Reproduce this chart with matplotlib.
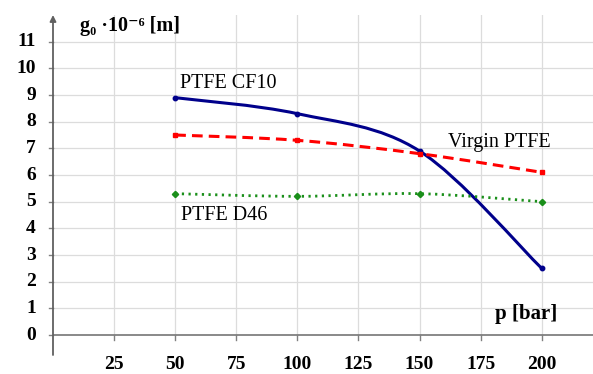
import numpy as np
import matplotlib
matplotlib.use('Agg')
import matplotlib.pyplot as plt
from matplotlib.path import Path
from matplotlib.patches import PathPatch

# data
p_bar = [50, 100, 150, 200]
cf10 = [8.9, 8.3, 6.9, 2.5]
virgin = [7.5, 7.3, 6.8, 6.1]
d46 = [5.3, 5.2, 5.3, 5.0]
xticks = [25, 50, 75, 100, 125, 150, 175, 200]
yticks = list(range(0, 12))

serif = ['Liberation Serif', 'DejaVu Serif']


def smooth_path(x, y):
    # Excel-like smoothed line: cubic bezier through the points
    pts = np.column_stack([x, y]).astype(float)
    ext = np.vstack([pts[0], pts, pts[-1]])
    verts = [pts[0]]
    codes = [Path.MOVETO]
    for i in range(1, len(ext) - 2):
        c1 = ext[i] + (ext[i + 1] - ext[i - 1]) / 6
        c2 = ext[i + 1] - (ext[i + 2] - ext[i]) / 6
        verts += [c1, c2, ext[i + 1]]
        codes += [Path.CURVE4] * 3
    return Path(verts, codes)


fig = plt.figure(figsize=(5.93, 3.74), dpi=100)
ax = fig.add_axes([53 / 593, 19 / 374, 540 / 593, 340 / 374])
ax.set_xlim(0, 221)
ax.set_ylim(-0.75, 12)

for s in ax.spines.values():
    s.set_visible(False)

# grid
for xv in xticks:
    ax.plot([xv, xv], [0, 12], color='#dcdcdc', lw=0.9, zorder=0)
for yv in yticks[1:]:
    ax.plot([0, 221], [yv, yv], color='#dcdcdc', lw=0.9, zorder=0)

# axes lines
ax.plot([0, 221], [0, 0], color='#808080', lw=1.3, zorder=1)
ax.annotate('', xy=(0, 12), xytext=(0, -0.75),
            arrowprops=dict(arrowstyle='-|>', color='#606060', lw=1.3,
                            mutation_scale=9, shrinkA=0, shrinkB=0))
for xv in xticks:
    ax.plot([xv, xv], [0, -0.18], color='#808080', lw=1.0)
for yv in yticks:
    ax.plot([0, -1.8], [yv, yv], color='#808080', lw=1.0, clip_on=False)

ax.set_xticks([])
ax.set_yticks([])
for xv in xticks:
    ax.text(xv, -1.1, str(xv), ha='center', va='center', fontsize=14,
            fontweight='bold', family=serif)
for yv in yticks:
    ax.text(-7, yv, str(yv), ha='right', va='center', fontsize=14,
            fontweight='bold', family=serif, clip_on=False)

series = [
    (cf10, '#00008b', '-', 'o', 2.2),
    (virgin, '#ff0000', (0, (3.5, 2)), 's', 2.2),
    (d46, '#1a8f1a', (0, (0.8, 1.6)), 'D', 2.0),
]
for vals, col, ls, mk, lw in series:
    patch = PathPatch(smooth_path(p_bar, vals), facecolor='none',
                      edgecolor=col, lw=lw, linestyle=ls, zorder=3)
    ax.add_patch(patch)
    ax.plot(p_bar, vals, linestyle='none', marker=mk, color=col,
            markersize=3.2, zorder=4)

ax.text(52, 9.45, 'PTFE CF10', fontsize=14.5, family=serif, va='center')
ax.text(161.5, 7.2, 'Virgin PTFE', fontsize=14.5, family=serif, va='center')
ax.text(52.5, 4.5, 'PTFE D46', fontsize=14.5, family=serif, va='center')

ax.text(11, 11.6, 'g₀ ·10⁻⁶ [m]', fontsize=14.5, fontweight='bold',
        family=serif, va='center')
ax.text(206.5, 0.8, 'p [bar]', fontsize=15, fontweight='bold',
        family=serif, va='center', ha='right')

fig.savefig('out.png', dpi=100)
